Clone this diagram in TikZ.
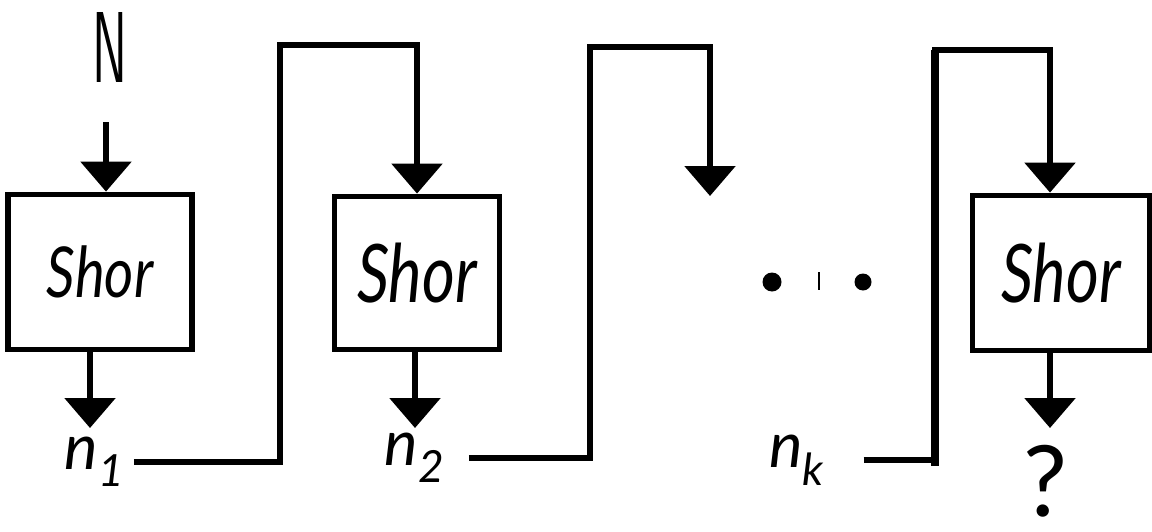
\documentclass[tikz,border=0pt]{standalone}
\usepackage{fontspec}
\usetikzlibrary{arrows.meta}
\newfontfamily\hand{Lato}
\begin{document}
\begin{tikzpicture}[x=0.02cm,y=-0.02cm,
  box/.style={draw, line width=3.3pt, inner sep=0pt, font=\hand\itshape\fontsize{40}{40}\selectfont},
  arr/.style={line width=3.3pt, -{Triangle[width=1.0cm,length=0.6cm]}},
  lab/.style={font=\hand\itshape\fontsize{36}{36}\selectfont, inner sep=2pt}]
\useasboundingbox (0,0) rectangle (1152,531);
% input
\node[inner sep=0pt] (N) at (110,47) {\resizebox{0.7cm}{1.4cm}{\sffamily N}};
\coordinate (in1) at (106,122);
% stage 1
\node[box, minimum width=3.68cm, minimum height=3.1cm] (b1) at (100,272) {\scalebox{0.8}[1]{Shor}};
\draw[arr] (in1) -- (b1.north -| in1);
\coordinate (o1) at (90,428);
\draw[arr] (b1.south -| o1) -- (o1);
\node[lab] (n1) at (95,462) {n\textsubscript{1}};
\coordinate (v1) at (280,45);
% stage 2
\node[box, minimum width=3.3cm, minimum height=3.06cm] (b2) at (417,273) {\scalebox{0.9}[1.15]{Shor}};
\draw[arr, shorten <=0.1cm] (n1.east) -| (v1) -| (b2.north);
\coordinate (o2) at (415,428);
\draw[arr] (b2.south -| o2) -- (o2);
\node[lab] (n2) at (415,458) {n\textsubscript{2}};
\coordinate (v2) at (590,47);
\coordinate (e2) at (710,196);
\draw[arr, shorten <=0.4cm] (n2.east) -| (v2) -| (e2);
% ellipsis
\fill (772,282) circle (0.19cm);
\fill (863,282) circle (0.17cm);
\draw[line width=1.6pt] (819,272) -- (819,290);
% stage k
\node[lab] (nk) at (797,460) {n\textsubscript{k}};
\coordinate (v3) at (935,50);
\coordinate (a3) at (1050,0);
\node[box, minimum width=3.54cm, minimum height=3.1cm] (b3) at (1061,273) {\scalebox{0.9}[1.15]{Shor}};
\draw[arr, shorten <=0.7cm] (nk.east) -| (v3) -| (b3.north -| a3);
\draw[line width=5pt] (v3) -- (v3 |- 0,466);
\coordinate (o3) at (1050,428);
\draw[arr] (b3.south -| o3) -- (o3);
\node[font=\hand\fontsize{56}{56}\selectfont, inner sep=0pt] (q) at (1045,481) {?};
\end{tikzpicture}
\end{document}
